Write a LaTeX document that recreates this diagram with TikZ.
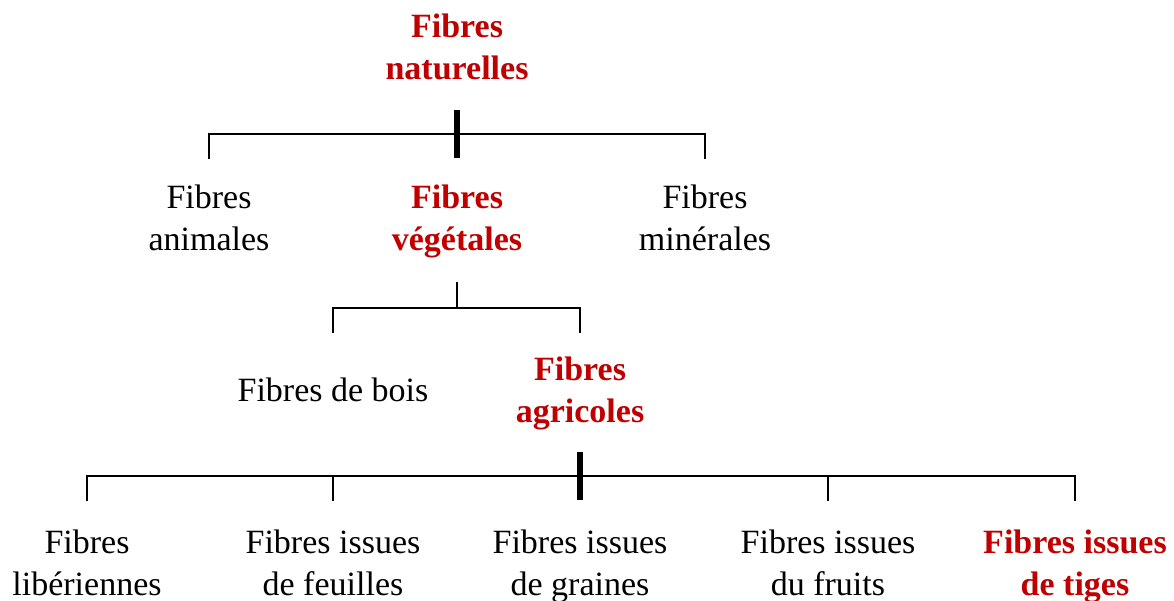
\documentclass[tikz,border=0pt]{standalone}
\usepackage{fontspec}
\setmainfont{Liberation Serif}
\definecolor{fred}{RGB}{192,0,0}
\begin{document}
\begin{tikzpicture}[x=1pt,y=-1pt,
  lbl/.style={align=center,inner sep=0pt,anchor=north,font=\fontsize{34}{42}\selectfont},
  hot/.style={lbl,text=fred,font=\fontsize{34}{42}\selectfont\bfseries},
  link/.style={line width=2pt,line cap=rect},
  stem/.style={line width=6pt}]
\useasboundingbox[fill=white] (0,0) rectangle (1174,601);
% level 0
\node[hot] (nat) at (457,14) {Fibres\\naturelles};
% level 1
\node[lbl] (anim) at (209,185) {Fibres\\animales};
\node[hot] (veg)  at (457,185) {Fibres\\végétales};
\node[lbl] (min)  at (705,185) {Fibres\\minérales};
% level 2
\node[lbl] (bois) at (333,378) {Fibres de bois};
\node[hot] (agri) at (580,357) {Fibres\\agricoles};
% level 3
\node[lbl] (lib)  at (87,530)  {Fibres\\libériennes};
\node[lbl] (feu)  at (333,530) {Fibres issues\\de feuilles};
\node[lbl] (gra)  at (580,530) {Fibres issues\\de graines};
\node[lbl] (fru)  at (828,530) {Fibres issues\\du fruits};
\node[hot] (tig)  at (1075,530) {Fibres issues\\de tiges};
% bracket 1
\coordinate (s1a) at (457,110); \coordinate (s1b) at (457,158);
\coordinate (h1l) at (209,134); \coordinate (h1r) at (705,134);
\coordinate (d1l) at (209,158); \coordinate (d1r) at (705,158);
\draw[link] (d1l) -- (h1l) -- (h1r) -- (d1r);
\draw[stem] (s1a) -- (s1b);
% bracket 2
\coordinate (s2a) at (457,283); \coordinate (s2b) at (457,308);
\coordinate (h2l) at (333,308); \coordinate (h2r) at (580,308);
\coordinate (d2l) at (333,332); \coordinate (d2r) at (580,332);
\draw[link] (s2a) -- (s2b);
\draw[link] (d2l) -- (h2l) -- (h2r) -- (d2r);
% bracket 3
\coordinate (s3a) at (580,452); \coordinate (s3b) at (580,500);
\coordinate (h3l) at (87,476); \coordinate (h3r) at (1075,476);
\coordinate (d3a) at (87,500); \coordinate (d3b) at (333,500);
\coordinate (d3d) at (828,500); \coordinate (d3e) at (1075,500);
\coordinate (h3b) at (333,476); \coordinate (h3d) at (828,476);
\draw[link] (d3a) -- (h3l) -- (h3r) -- (d3e);
\draw[link] (h3b) -- (d3b);
\draw[link] (h3d) -- (d3d);
\draw[stem] (s3a) -- (s3b);
\end{tikzpicture}
\end{document}
